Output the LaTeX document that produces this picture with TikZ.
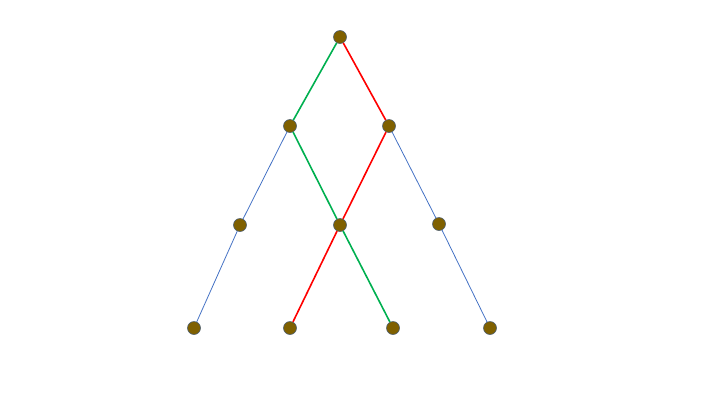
\documentclass[tikz,border=0pt]{standalone}
\definecolor{nodefill}{HTML}{7F6000}
\definecolor{nodeedge}{HTML}{4F5F6F}
\definecolor{gline}{HTML}{00B050}
\definecolor{rline}{HTML}{FF0000}
\definecolor{bline}{HTML}{4472C4}
\tikzset{
  dot/.style={circle,fill=nodefill,draw=nodeedge,line width=0.6pt,minimum size=13pt,inner sep=0pt},
  gedge/.style={gline,line width=1.6pt},
  redge/.style={rline,line width=1.6pt},
  bedge/.style={bline,line width=0.8pt}
}
\begin{document}
\begin{tikzpicture}[x=1pt,y=-1pt]
\useasboundingbox (0,0) rectangle (720,405);
\node[dot] (t) at (340,37) {};
\node[dot] (l1) at (290,126) {};
\node[dot] (r1) at (389,126) {};
\node[dot] (l2) at (240,225) {};
\node[dot] (m2) at (340,225) {};
\node[dot] (r2) at (439,224) {};
\node[dot] (a3) at (194,328) {};
\node[dot] (b3) at (290,328) {};
\node[dot] (c3) at (393,328) {};
\node[dot] (d3) at (490,328) {};
\begin{scope}[on background layer/.style={}]
\end{scope}
\draw[gedge] (t) -- (l1);
\draw[gedge] (l1) -- (m2);
\draw[gedge] (m2) -- (c3);
\draw[redge] (t) -- (r1);
\draw[redge] (r1) -- (m2);
\draw[redge] (m2) -- (b3);
\draw[bedge] (l1) -- (l2);
\draw[bedge] (l2) -- (a3);
\draw[bedge] (r1) -- (r2);
\draw[bedge] (r2) -- (d3);
\end{tikzpicture}
\end{document}
